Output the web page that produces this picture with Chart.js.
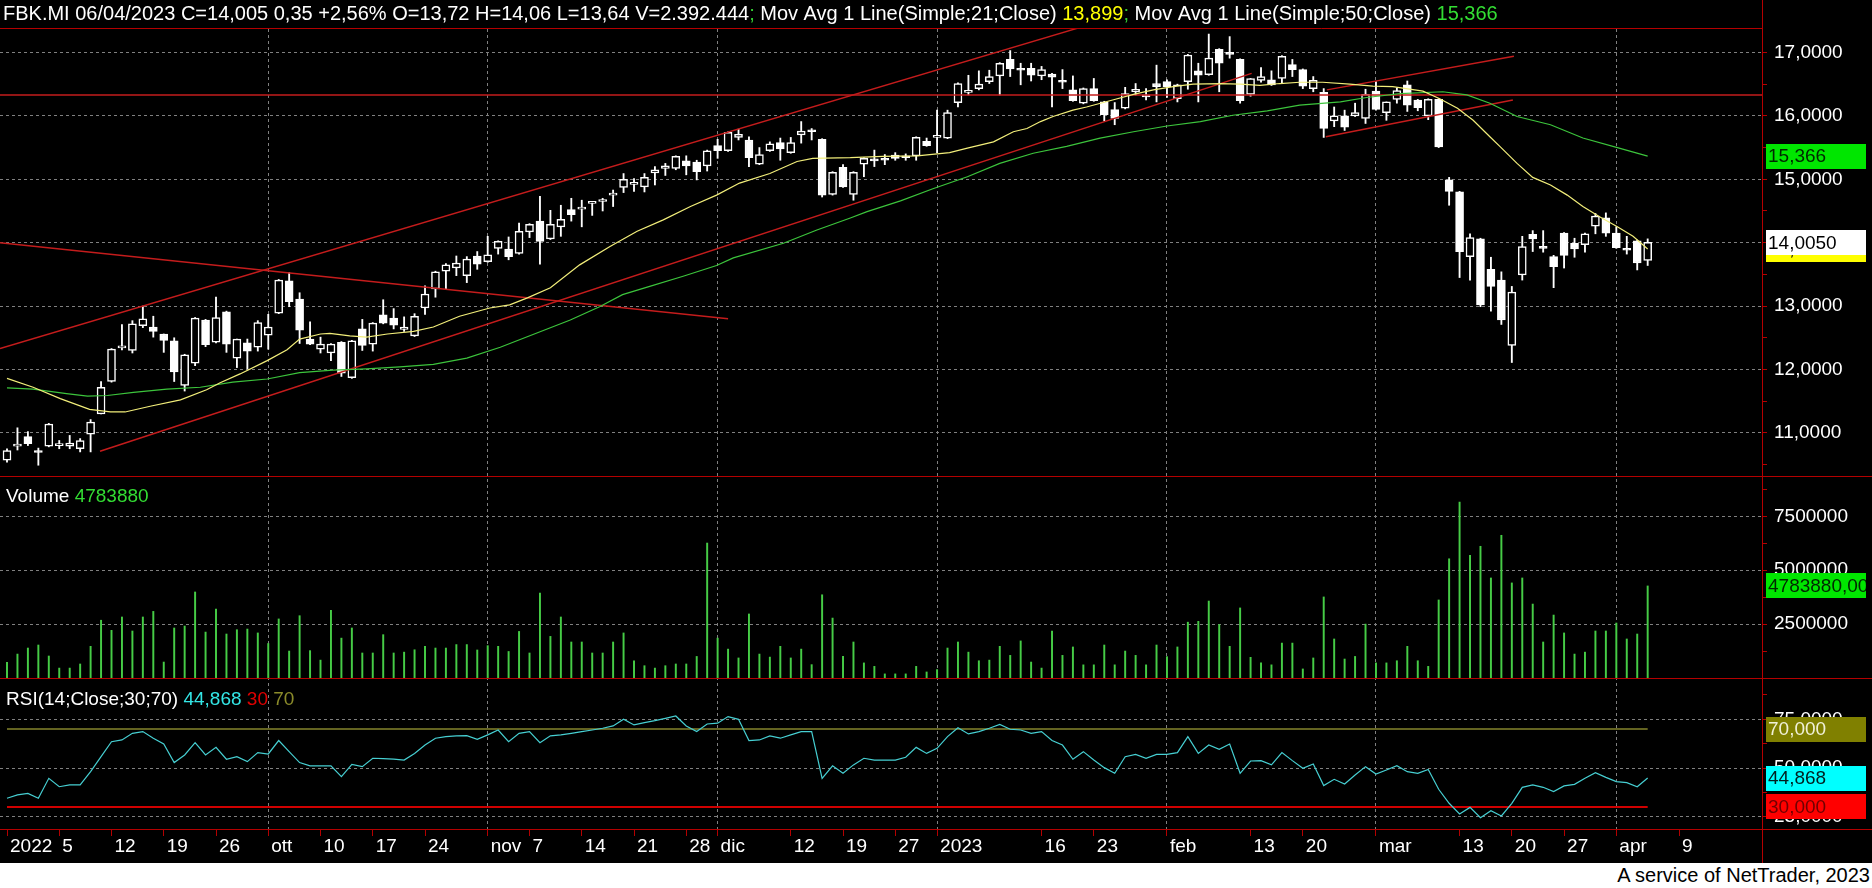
<!DOCTYPE html>
<html>
<head>
<meta charset="utf-8">
<script src="https://cdn.jsdelivr.net/npm/chart.js@4.4.0/dist/chart.umd.min.js"></script>
<style>
  html, body { margin: 0; padding: 0; background: #fff; }
  #wrap { position: relative; width: 1872px; height: 888px; overflow: hidden; }
  canvas { display: block; background: #000; }
  #credit { position: absolute; right: 2px; top: 864px; font: 20px "Liberation Sans", Arial, sans-serif; color: #000; }
</style>
</head>
<body>
<div id="wrap">
  <canvas id="chart" width="1872" height="863"></canvas>
  <div id="credit">A service of NetTrader, 2023</div>
</div>
<script>
// daily bars, 29 ago 2022 .. 6 apr 2023 (index 0..157)
const opens = [
  10.57,10.79,10.94,10.71,10.79,10.80,10.79,10.75,10.98,11.30,
  11.81,12.34,12.30,12.69,12.67,12.56,12.45,11.75,12.10,12.78,
  12.43,12.91,12.18,12.42,12.35,12.54,12.89,13.40,13.11,12.48,
  12.32,12.26,12.43,11.87,12.64,12.40,12.86,12.81,12.63,12.53,
  12.97,13.27,13.55,13.60,13.48,13.79,13.70,13.91,13.90,13.83,
  14.17,14.34,14.06,14.25,14.52,14.53,14.62,14.65,14.75,14.87,
  14.92,14.88,15.10,15.17,15.17,15.29,15.27,15.21,15.53,15.45,
  15.66,15.62,15.24,15.45,15.58,15.42,15.70,15.76,15.63,14.76,
  15.19,14.76,15.24,15.32,15.31,15.38,15.37,15.37,15.60,15.66,
  15.65,16.21,16.37,16.43,16.54,16.63,16.89,16.73,16.75,16.63,
  16.66,16.54,16.41,16.20,16.43,16.22,16.10,16.12,16.38,16.31,
  16.51,16.54,16.27,16.54,16.71,16.65,17.05,16.98,16.89,16.34,
  16.56,16.57,16.59,16.81,16.73,16.43,16.37,15.92,16.00,16.00,
  15.96,16.39,16.05,16.26,16.49,16.25,16.00,16.26,14.99,14.80,
  13.78,14.06,13.58,13.41,12.38,13.49,14.13,13.92,13.78,14.15,
  13.99,13.97,14.26,14.39,14.15,13.89,14.03,13.72
];
const highs = [
  10.75,11.08,11.02,10.76,11.15,10.88,10.96,10.91,11.21,11.81,
  12.33,12.71,12.77,13.00,12.84,12.56,12.50,12.24,12.82,12.79,
  13.14,12.92,12.48,12.48,12.77,12.87,13.42,13.53,13.21,12.75,
  12.51,12.41,12.44,12.46,12.79,12.74,13.10,12.96,12.83,12.88,
  13.32,13.55,13.67,13.79,13.78,13.86,14.10,14.03,14.09,14.31,
  14.30,14.73,14.51,14.59,14.70,14.67,14.65,14.70,14.83,15.09,
  15.01,15.09,15.20,15.25,15.37,15.37,15.30,15.46,15.63,15.75,
  15.79,15.67,15.50,15.59,15.65,15.66,15.91,15.80,15.64,15.12,
  15.23,15.12,15.34,15.46,15.39,15.42,15.40,15.67,15.65,16.09,
  16.09,16.52,16.64,16.71,16.72,16.84,17.03,16.83,16.83,16.78,
  16.67,16.73,16.63,16.44,16.59,16.23,16.21,16.45,16.51,16.43,
  16.80,16.57,16.50,16.97,16.83,17.29,17.06,17.25,16.90,16.59,
  16.76,16.71,16.95,16.89,16.74,16.62,16.43,16.14,16.09,16.20,
  16.42,16.54,16.22,16.44,16.55,16.26,16.27,16.27,15.03,14.81,
  14.14,14.07,13.77,13.54,13.31,14.10,14.19,14.19,13.80,14.16,
  14.07,14.15,14.46,14.47,14.25,14.10,14.04,14.06
];
const lows = [
  10.54,10.73,10.80,10.49,10.78,10.75,10.75,10.70,10.70,11.30,
  11.80,12.31,12.26,12.66,12.51,12.27,11.81,11.66,12.06,12.36,
  12.42,12.27,12.03,12.01,12.29,12.32,12.88,12.99,12.41,12.39,
  12.26,12.14,11.89,11.86,12.30,12.29,12.72,12.64,12.60,12.52,
  12.87,13.14,13.27,13.48,13.37,13.58,13.69,13.82,13.73,13.82,
  14.08,13.66,14.05,14.10,14.34,14.25,14.43,14.50,14.57,14.79,
  14.81,14.80,14.91,15.06,15.15,15.07,14.99,15.13,15.33,15.44,
  15.62,15.20,15.23,15.44,15.30,15.41,15.57,15.62,14.72,14.75,
  14.87,14.67,15.04,15.20,15.23,15.30,15.30,15.30,15.52,15.42,
  15.64,16.14,16.33,16.41,16.51,16.33,16.62,16.49,16.55,16.57,
  16.14,16.43,16.23,16.19,16.23,15.92,15.86,16.11,16.33,16.25,
  16.22,16.29,16.22,16.42,16.22,16.64,16.38,16.91,16.20,16.31,
  16.53,16.48,16.51,16.62,16.43,16.38,15.66,15.83,15.77,15.99,
  15.88,16.09,15.93,16.20,16.07,16.08,15.94,15.50,14.59,13.45,
  13.41,12.99,12.92,12.71,12.11,13.41,13.86,13.85,13.29,13.60,
  13.77,13.85,14.14,14.10,13.91,13.82,13.57,13.64
];
const closes = [
  10.72,10.81,10.83,10.69,11.14,10.81,10.84,10.88,11.17,11.72,
  12.32,12.36,12.72,12.80,12.60,12.46,11.96,12.23,12.81,12.39,
  12.82,12.40,12.48,12.29,12.74,12.67,13.41,13.07,12.62,12.40,
  12.40,12.40,11.94,12.45,12.38,12.73,12.73,12.70,12.67,12.84,
  13.19,13.54,13.65,13.68,13.74,13.66,13.81,14.02,13.78,14.18,
  14.29,14.02,14.29,14.37,14.44,14.55,14.63,14.66,14.76,15.00,
  14.93,15.03,15.15,15.21,15.36,15.21,15.12,15.45,15.45,15.74,
  15.71,15.34,15.39,15.56,15.48,15.58,15.76,15.75,14.75,15.11,
  14.88,15.11,15.33,15.29,15.30,15.33,15.34,15.66,15.53,15.69,
  16.05,16.51,16.38,16.50,16.62,16.83,16.74,16.72,16.64,16.73,
  16.61,16.53,16.24,16.43,16.24,16.02,15.96,16.35,16.42,16.30,
  16.46,16.46,16.49,16.96,16.64,16.91,16.83,16.97,16.24,16.59,
  16.62,16.49,16.94,16.73,16.47,16.56,15.80,16.00,15.82,16.05,
  16.34,16.10,16.22,16.40,16.17,16.13,16.26,15.51,14.81,13.86,
  14.08,13.02,13.31,12.78,13.22,13.94,14.06,13.91,13.62,13.80,
  13.90,14.14,14.42,14.15,13.92,13.88,13.68,14.005
];
// volume in millions of shares
const volumes = [
  0.73,1.11,1.39,1.53,1.02,0.46,0.46,0.65,1.47,2.68,
  2.21,2.83,2.18,2.83,3.09,0.74,2.32,2.41,3.99,2.13,
  3.20,2.04,2.24,2.27,2.09,1.60,2.74,1.25,2.89,1.27,
  0.83,3.14,1.85,2.32,1.16,1.16,2.01,1.16,1.20,1.31,
  1.47,1.39,1.39,1.55,1.55,1.30,1.50,1.47,1.23,2.16,
  1.16,3.94,1.93,2.83,1.67,1.67,1.16,1.16,1.67,2.09,
  0.80,0.57,0.46,0.57,0.65,0.65,1.00,6.26,1.85,1.34,
  0.93,2.97,1.11,0.97,1.47,0.93,1.34,0.62,3.86,2.78,
  1.00,1.67,0.70,0.54,0.19,0.19,0.19,0.54,0.28,0.39,
  1.39,1.67,1.20,0.80,0.83,1.47,1.05,1.72,0.74,0.46,
  2.18,1.05,1.44,0.61,0.61,1.53,0.61,1.25,1.05,0.61,
  1.53,0.99,1.44,2.59,2.63,3.57,2.48,1.47,3.25,0.96,
  0.70,0.61,1.62,1.62,0.42,0.93,3.76,1.81,0.88,1.00,
  2.50,0.70,0.70,0.80,1.47,0.80,0.54,3.62,5.53,8.16,
  5.69,6.11,4.64,6.62,4.41,4.64,3.43,1.67,2.92,2.09,
  1.11,1.20,2.18,2.18,2.55,1.81,2.04,4.27
];
const rsiValues = [
  34.5,36.2,37.0,34.5,44.7,40.4,41.3,41.3,48.1,55.8,
  63.5,64.4,67.8,68.7,65.3,62.3,52.8,56.7,63.0,56.7,
  60.6,54.5,55.8,53.3,57.9,57.2,64.1,58.4,52.8,51.1,
  51.1,51.1,45.6,51.9,50.7,55.0,54.8,54.6,54.1,57.5,
  61.8,65.3,66.1,66.5,66.6,64.7,67.0,69.5,63.5,67.8,
  68.7,63.0,66.5,67.0,67.8,68.7,69.5,70.4,71.6,75.0,
  72.1,73.3,74.3,75.5,76.7,71.6,68.7,72.6,73.0,76.4,
  75.0,64.1,64.4,66.5,65.3,67.0,68.7,68.7,44.7,51.1,
  47.3,51.6,55.0,54.1,54.1,54.1,55.5,60.6,57.5,60.1,
  66.1,70.7,67.5,68.7,70.4,72.4,69.9,69.5,67.8,68.7,
  64.1,61.8,54.5,58.4,54.1,50.2,47.3,55.8,57.0,55.0,
  57.0,57.0,57.9,66.1,57.5,61.8,59.6,62.3,47.3,53.6,
  53.8,51.6,57.9,53.8,49.9,52.1,41.0,44.2,41.8,46.4,
  50.7,46.9,49.0,51.2,48.1,47.3,49.3,39.1,31.9,26.4,
  29.8,24.5,28.1,25.4,31.9,40.1,41.3,40.1,37.9,40.8,
  41.6,44.7,47.6,45.2,43.0,42.5,40.4,44.87
];
const rsiLevels = [70, 30];

// moving averages (bar index, value)
const ma21Idx = [0,2.5,5.1,7.9,9.9,11.3,13.7,16.6,19.1,20.4,22.3,24.9,26.8,28,30,30.9,32.8,34.4,36.4,38.9,
  40.8,43.3,46.2,48.1,49.8,52,54.8,57.7,60.3,62.8,65.4,67.9,70.1,73,75.6,77.1,80.7,83.8,87.1,90.2,
  91.9,94.4,96.3,97.6,98.9,100.1,102,103.3,105.8,107.8,109.7,111.6,113.5,116.1,118,119.9,121.8,123.7,125.9,128.5,
  130.7,132.6,135.5,137.1,138.8,140.3,141.9,142.9,144.5,146,147.7,149.3,150.8,152.4,154.1,155.6,157];
const ma21Val = [11.86,11.72,11.54,11.37,11.33,11.33,11.42,11.52,11.68,11.79,11.93,12.14,12.31,12.48,12.56,12.57,12.53,12.51,12.56,12.60,
  12.67,12.84,12.97,13.02,13.13,13.29,13.65,13.94,14.18,14.36,14.57,14.75,14.94,15.09,15.28,15.33,15.34,15.36,15.37,15.42,
  15.49,15.59,15.75,15.80,15.91,15.99,16.09,16.14,16.25,16.34,16.41,16.46,16.50,16.51,16.50,16.48,16.51,16.53,16.53,16.50,
  16.47,16.46,16.39,16.27,16.12,15.93,15.67,15.51,15.25,15.03,14.91,14.75,14.57,14.41,14.25,14.10,13.899];
const ma50Idx = [0,2.5,5.7,7.7,9.6,12.1,15.3,18.5,21.6,24.9,28,31.2,34.4,37.6,40.8,44,47.2,53.9,56.7,58.9,
  61.5,64.7,67.9,69.5,74.3,77.5,80.7,82.3,85.5,88.6,91.9,95,98.2,101.4,104.6,107.8,111,114.2,117.3,120.6,
  123.7,127.6,130.1,133.3,137.4,139.7,141.9,144.5,147.7,150.8,154.1,157];
const ma50Val = [11.71,11.69,11.62,11.58,11.59,11.64,11.69,11.72,11.80,11.85,11.95,11.99,12.01,12.04,12.08,12.18,12.35,12.78,12.99,13.18,
  13.31,13.47,13.64,13.76,13.99,14.20,14.39,14.49,14.66,14.85,15.04,15.25,15.41,15.52,15.65,15.75,15.84,15.91,16.01,16.08,
  16.17,16.22,16.29,16.35,16.38,16.33,16.20,15.99,15.86,15.65,15.50,15.366];

// drawn trend lines: [index1, price1, index2, price2]
const xMin = -0.67, xMax = 167.94;
const trendLines = [
  [xMin, 16.33, xMax, 16.33],
  [xMin, 12.33, 102.4, 17.38],
  [8.9, 10.71, 119.1, 16.67],
  [xMin, 14.00, 69.0, 12.80],
  [126.3, 16.41, 144.2, 16.94],
  [126.2, 15.67, 144.1, 16.25]
];

const xTickIdx = [0,5,10,15,20,25,30,35,40,46,50,55,60,65,68,75,80,85,89,99,104,111,119,124,131,139,144,149,154,160];
const xTickLabels = ['2022','5','12','19','26','ott','10','17','24','nov','7','14','21','28','dic','12','19','27',
  '2023','16','23','feb','13','20','mar','13','20','27','apr','9'];
const monthIdx = [25,46,68,89,111,131,154];
const priceTicks = [10.5,11,11.5,12,12.5,13,13.5,14,14.5,15,15.5,16,16.5,17];
const volTicks = [1.25,2.5,3.75,5,6.25,7.5,8.75];
const rsiTicks = [25,37.5,50,62.5,75,87.5];

const FONT = '19px "Liberation Sans", Arial, sans-serif';
const HEAD_FONT = '20px "Liberation Sans", Arial, sans-serif';
const RED = '#b40000';
const GRID = '#808080';
const tickFont = { family: '"Liberation Sans", Arial, sans-serif', size: 19 };

function yAxis(min, max, ticks, isMajor, fmt, weight) {
  return {
    type: 'linear', position: 'right', stack: 'panels', stackWeight: weight,
    min: min, max: max,
    afterBuildTicks: s => { s.ticks = ticks.map(v => ({ value: v })); },
    afterFit: s => { s.width = 110; },
    ticks: { autoSkip: false, color: '#fff', font: tickFont, padding: 7,
      callback: v => isMajor(v) ? fmt(v) : '' },
    grid: { color: c => isMajor(c.tick.value) ? GRID : 'rgba(0,0,0,0)', tickColor: RED, tickLength: 5, lineWidth: 1 },
    border: { color: RED, dash: [3, 3] }
  };
}

const bodyData = opens.map((o, i) => ({ x: i, y: [o, closes[i]] }));
const wickData = lows.map((l, i) => ({ x: i, y: [l, highs[i]] }));
const bodyFill = opens.map((o, i) => closes[i] >= o ? '#000' : '#fff');

const datasets = [
  { type: 'line', data: ma21Idx.map((x, k) => ({ x: x, y: ma21Val[k] })), yAxisID: 'yPrice',
    borderColor: '#f2ee7a', borderWidth: 1.2, pointRadius: 0, order: 0 },
  { type: 'line', data: ma50Idx.map((x, k) => ({ x: x, y: ma50Val[k] })), yAxisID: 'yPrice',
    borderColor: '#3cc43c', borderWidth: 1.2, pointRadius: 0, order: 0 }
];
trendLines.forEach(t => datasets.push({
  type: 'line', data: [{ x: t[0], y: t[1] }, { x: t[2], y: t[3] }], yAxisID: 'yPrice',
  borderColor: '#c41c1c', borderWidth: 1.5, pointRadius: 0, order: 1
}));
datasets.push(
  { type: 'bar', data: bodyData, yAxisID: 'yPrice', backgroundColor: bodyFill, borderColor: '#fff',
    borderWidth: 1.5, borderSkipped: false, barThickness: 8, grouped: false, minBarLength: 2, order: 2 },
  { type: 'bar', data: wickData, yAxisID: 'yPrice', backgroundColor: '#fff', barThickness: 1.2,
    grouped: false, order: 3 },
  { type: 'bar', data: volumes.map((v, i) => ({ x: i, y: v })), yAxisID: 'yVol', backgroundColor: '#46cc46',
    barThickness: 1.3, grouped: false, order: 3 },
  { type: 'line', data: rsiValues.map((v, i) => ({ x: i, y: v })), yAxisID: 'yRsi',
    borderColor: '#46cfd2', borderWidth: 1.2, pointRadius: 0, order: 0 },
  { type: 'line', data: [{ x: 0, y: rsiLevels[0] }, { x: opens.length - 1, y: rsiLevels[0] }], yAxisID: 'yRsi',
    borderColor: '#85852c', borderWidth: 1.5, pointRadius: 0, order: 1 },
  { type: 'line', data: [{ x: 0, y: rsiLevels[1] }, { x: opens.length - 1, y: rsiLevels[1] }], yAxisID: 'yRsi',
    borderColor: '#d00000', borderWidth: 2, pointRadius: 0, order: 1 }
);

function drawRuns(c, x, y, runs) {
  runs.forEach(r => { c.fillStyle = r[1]; c.fillText(r[0], x, y); x += c.measureText(r[0]).width; });
}
function hline(c, x1, x2, y) { c.beginPath(); c.moveTo(x1, y); c.lineTo(x2, y); c.stroke(); }
function tag(c, x, y, bg, fg, text) {
  c.save();
  c.fillStyle = bg;
  c.fillRect(x, Math.round(y - 12.5), 100, 25);
  c.beginPath(); c.rect(x, Math.round(y - 12.5), 100, 25); c.clip();
  c.fillStyle = fg; c.fillText(text, x + 2, y + 1);
  c.restore();
}

const overlay = {
  id: 'overlay',
  afterDraw(chart) {
    const c = chart.ctx, a = chart.chartArea;
    const sP = chart.scales.yPrice, sV = chart.scales.yVol, sR = chart.scales.yRsi;
    const W = chart.width, H = chart.height;
    c.save();
    c.strokeStyle = RED; c.lineWidth = 1;
    hline(c, 0, a.right, a.top - 0.5);
    hline(c, 0, W, Math.round(sV.top) + 0.5);
    hline(c, 0, W, Math.round(sR.top) + 0.5);
    hline(c, 0, W, Math.round(a.bottom) + 0.5);
    c.beginPath(); c.moveTo(a.right + 0.5, 0); c.lineTo(a.right + 0.5, H); c.stroke();

    c.font = FONT; c.textBaseline = 'middle'; c.textAlign = 'left';
    const tx = a.right + 4;
    const last = opens.length - 1;
    tag(c, tx, sP.getPixelForValue(ma50Val[ma50Val.length - 1]), '#00e600', '#002800', '15,366');
    tag(c, tx, sP.getPixelForValue(ma21Val[ma21Val.length - 1]), '#ffff00', '#000', '13,899');
    tag(c, tx, sP.getPixelForValue(closes[last]), '#ffffff', '#000', '14,0050');
    tag(c, tx, sV.getPixelForValue(volumes[last]), '#00e600', '#002800', '4783880,00');
    tag(c, tx, sR.getPixelForValue(rsiLevels[0]), '#808000', '#f0f0d8', '70,000');
    tag(c, tx, sR.getPixelForValue(rsiValues[last]), '#00ffff', '#002020', '44,868');
    tag(c, tx, sR.getPixelForValue(rsiLevels[1]), '#ff0000', '#700000', '30,000');

    c.font = HEAD_FONT;
    drawRuns(c, 3, 14, [
      ['FBK.MI 06/04/2023 C=14,005 0,35 +2,56% O=13,72 H=14,06 L=13,64 V=2.392.444', '#fff'],
      [';', '#33cc33'], [' Mov Avg 1 Line(Simple;21;Close) ', '#fff'], ['13,899', '#ffff00'],
      [';', '#33cc33'], [' Mov Avg 1 Line(Simple;50;Close) ', '#fff'], ['15,366', '#33dd33']
    ]);
    c.font = FONT;
    drawRuns(c, 6, sV.top + 21, [['Volume ', '#fff'], ['4783880', '#33dd33']]);
    drawRuns(c, 6, sR.top + 22, [['RSI(14;Close;30;70) ', '#fff'], ['44,868', '#33e6e6'],
      [' 30', '#e00000'], [' 70', '#8b8b2a']]);
    c.restore();
  }
};

new Chart(document.getElementById('chart').getContext('2d'), {
  type: 'bar',
  data: { datasets: datasets },
  options: {
    responsive: false,
    animation: false,
    events: [],
    layout: { padding: { top: 29, left: 0, right: 0, bottom: 0 } },
    plugins: { legend: { display: false }, tooltip: { enabled: false } },
    scales: {
      x: {
        type: 'linear', min: xMin, max: xMax, offset: false,
        afterBuildTicks: s => { s.ticks = xTickIdx.map(v => ({ value: v })); },
        afterFit: s => { s.height = 34; },
        ticks: { autoSkip: false, maxRotation: 0, minRotation: 0, align: 'start', labelOffset: 3, padding: -1,
          color: '#fff', font: tickFont, callback: (v, i) => xTickLabels[i] },
        grid: { offset: false, color: c => monthIdx.includes(c.tick.value) ? GRID : 'rgba(0,0,0,0)',
          tickColor: RED, tickLength: 7 },
        border: { color: RED, dash: [3, 3] }
      },
      yPrice: yAxis(10.32, 17.37, priceTicks, v => Number.isInteger(v),
        v => v.toFixed(4).replace('.', ','), 447),
      yVol: yAxis(0, 9.37, volTicks, v => v % 2.5 === 0, v => String(Math.round(v * 1e6)), 202),
      yRsi: yAxis(18.7, 96.2, rsiTicks, v => v % 25 === 0, v => v.toFixed(4).replace('.', ','), 151)
    }
  },
  plugins: [overlay]
});
</script>
</body>
</html>
